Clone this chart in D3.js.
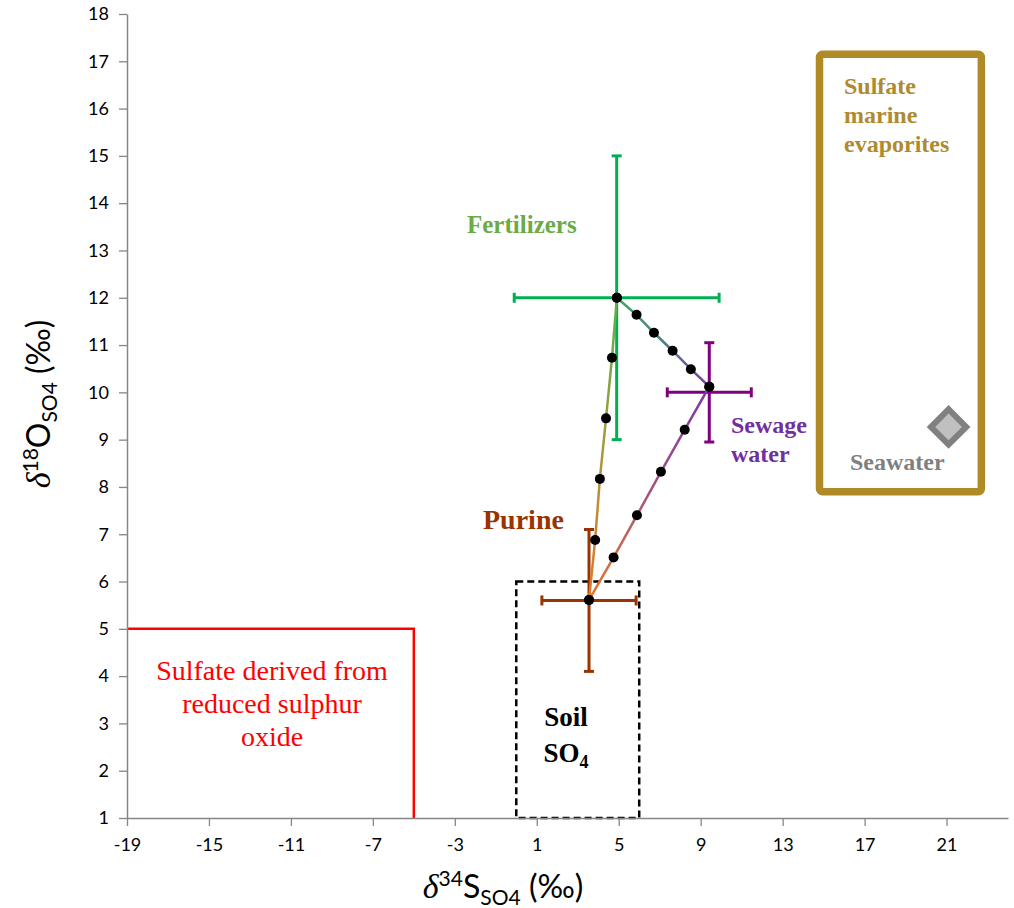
<!DOCTYPE html>
<html>
<head>
<meta charset="utf-8">
<script src="https://cdn.jsdelivr.net/npm/d3@7"></script>
<style>
  html, body { margin: 0; padding: 0; background: #fff; }
  svg { display: block; }
</style>
</head>
<body>
<svg id="chart" width="1014" height="908"></svg>
<script>
// Axis ticks
const xTicks = [-19, -15, -11, -7, -3, 1, 5, 9, 13, 17, 21];
const yTicks = [1, 2, 3, 4, 5, 6, 7, 8, 9, 10, 11, 12, 13, 14, 15, 16, 17, 18];

// Sulfate sources: mean δ34S, mean δ18O and their spreads (‰)
const sources = ["Fertilizers", "Sewage water", "Purine"];
const sourceS = [4.9, 9.42, 3.55];
const sourceO = [12.0, 10.0, 5.6];
const sourceErrS = [5.0, 2.05, 2.3];
const sourceErrO = [3.0, 1.05, 1.5];

// Binary mixing lines between end-members (points every 20 %)
const mixFertSewageS = [4.91, 5.87, 6.72, 7.63, 8.52, 9.42];
const mixFertSewageO = [12.0, 11.64, 11.26, 10.88, 10.49, 10.12];
const mixFertPurineS = [4.91, 4.67, 4.38, 4.08, 3.85, 3.55];
const mixFertPurineO = [12.0, 10.73, 9.45, 8.17, 6.88, 5.61];
const mixSewagePurineS = [9.42, 8.22, 7.06, 5.89, 4.75, 3.55];
const mixSewagePurineO = [10.12, 9.21, 8.32, 7.40, 6.51, 5.61];

// Source fields
const evaporiteS = [14.8, 22.7];
const evaporiteO = [7.9, 17.15];
const soilS = [0, 6];
const soilO = [1, 6];
const reducedS = [-19, -5];
const reducedO = [1, 5];
const seawaterS = [21.1];
const seawaterO = [9.27];

const svg = d3.select("#chart");
const x = d3.scaleLinear().domain([-19, 24]).range([127, 1008]);
const y = d3.scaleLinear().domain([1, 18]).range([818, 14]);

const axisColor = "#868686";
const sansFont = "Lato, 'Open Sans', sans-serif";
const serifFont = "'Liberation Serif', 'DejaVu Serif', serif";

// ---- source fields ----
// reduced sulphur oxide field (red)
svg.append("path")
  .attr("d", d3.line()([[x(reducedS[0]), y(reducedO[1])], [x(reducedS[1]), y(reducedO[1])], [x(reducedS[1]), y(reducedO[0])]]))
  .attr("fill", "none").attr("stroke", "#ff0000").attr("stroke-width", 2.5);

// soil sulfate field (dashed)
svg.append("rect")
  .attr("x", x(soilS[0])).attr("y", y(soilO[1]))
  .attr("width", x(soilS[1]) - x(soilS[0])).attr("height", y(soilO[0]) - y(soilO[1]))
  .attr("fill", "none").attr("stroke", "#000").attr("stroke-width", 2.5)
  .attr("stroke-dasharray", "7,4");

// marine evaporite field
svg.append("rect")
  .attr("x", x(evaporiteS[0])).attr("y", y(evaporiteO[1]))
  .attr("width", x(evaporiteS[1]) - x(evaporiteS[0])).attr("height", y(evaporiteO[0]) - y(evaporiteO[1]))
  .attr("rx", 3)
  .attr("fill", "none").attr("stroke", "#b08a26").attr("stroke-width", 7.5);

// seawater marker
svg.selectAll(".seawater").data(seawaterS).join("path")
  .attr("class", "seawater")
  .attr("d", d3.symbol(d3.symbolSquare, 620)())
  .attr("transform", (d, i) => `translate(${x(d)},${y(seawaterO[i])}) rotate(45)`)
  .attr("fill", "#c0c0c0").attr("stroke", "#808080").attr("stroke-width", 6);

// ---- axes ----
const fmt = d => String(d);   // plain hyphen-minus for negatives
const xAxis = svg.append("g").attr("transform", `translate(0,${y(1)})`)
  .call(d3.axisBottom(x).tickValues(xTicks).tickFormat(fmt).tickSize(8).tickPadding(12).tickSizeOuter(0));
const yAxis = svg.append("g").attr("transform", `translate(${x(-19)},0)`)
  .call(d3.axisLeft(y).tickValues(yTicks).tickFormat(fmt).tickSize(8).tickPadding(10).tickSizeOuter(0));
[xAxis, yAxis].forEach(g => {
  g.select(".domain").attr("stroke", axisColor).attr("stroke-width", 1.5);
  g.selectAll(".tick line").attr("stroke", axisColor).attr("stroke-width", 1.3);
  g.selectAll(".tick text").attr("fill", "#000").style("font-family", sansFont).style("font-size", "18px");
});

// ---- error bars ----
const barColors = ["#00b050", "#800080", "#993300"];
const capHalf = 5;
sources.forEach((name, i) => {
  const g = svg.append("g").attr("stroke", barColors[i]).attr("stroke-width", 3);
  const cx = x(sourceS[i]), cy = y(sourceO[i]);
  const x0 = x(sourceS[i] - sourceErrS[i]), x1 = x(sourceS[i] + sourceErrS[i]);
  const y0 = y(sourceO[i] - sourceErrO[i]), y1 = y(sourceO[i] + sourceErrO[i]);
  g.append("line").attr("x1", x0).attr("x2", x1).attr("y1", cy).attr("y2", cy);
  g.append("line").attr("x1", x0).attr("x2", x0).attr("y1", cy - capHalf).attr("y2", cy + capHalf);
  g.append("line").attr("x1", x1).attr("x2", x1).attr("y1", cy - capHalf).attr("y2", cy + capHalf);
  g.append("line").attr("x1", cx).attr("x2", cx).attr("y1", y0).attr("y2", y1);
  g.append("line").attr("x1", cx - capHalf).attr("x2", cx + capHalf).attr("y1", y0).attr("y2", y0);
  g.append("line").attr("x1", cx - capHalf).attr("x2", cx + capHalf).attr("y1", y1).attr("y2", y1);
});

// ---- mixing lines with colour gradients ----
const defs = svg.append("defs");
const mixes = [
  { id: "fp", s: mixFertPurineS, o: mixFertPurineO, stops: ["#5fae4c", "#a69a3a", "#e4782a"] },
  { id: "fs", s: mixFertSewageS, o: mixFertSewageO, stops: ["#3aa860", "#4f7f86", "#7a3aa0"] },
  { id: "sp", s: mixSewagePurineS, o: mixSewagePurineO, stops: ["#7a38a8", "#a6527e", "#e8782a"] }
];
mixes.forEach(m => {
  const n = m.s.length - 1;
  const grad = defs.append("linearGradient").attr("id", "grad-" + m.id)
    .attr("gradientUnits", "userSpaceOnUse")
    .attr("x1", x(m.s[0])).attr("y1", y(m.o[0]))
    .attr("x2", x(m.s[n])).attr("y2", y(m.o[n]));
  m.stops.forEach((c, k) => grad.append("stop").attr("offset", k / (m.stops.length - 1)).attr("stop-color", c));
  svg.append("path")
    .attr("d", d3.line()(m.s.map((v, k) => [x(v), y(m.o[k])])))
    .attr("fill", "none").attr("stroke", `url(#grad-${m.id})`).attr("stroke-width", 2.5);
});
mixes.forEach(m => {
  svg.append("g").selectAll("circle").data(m.s).join("circle")
    .attr("cx", d => x(d)).attr("cy", (d, k) => y(m.o[k])).attr("r", 5)
    .attr("fill", "#000");
});

// ---- annotations ----
function label(lines, px, py, opts) {
  const t = svg.append("text")
    .attr("x", px).attr("y", py)
    .attr("fill", opts.color)
    .attr("text-anchor", opts.anchor || "start")
    .style("font-family", serifFont)
    .style("font-size", opts.size + "px")
    .style("font-weight", opts.bold ? "bold" : "normal");
  lines.forEach((ln, k) => {
    t.append("tspan").attr("x", px).attr("dy", k === 0 ? 0 : opts.lh).text(ln);
  });
  return t;
}
label(["Fertilizers"], 467, 233, { color: "#6aab45", size: 25, bold: true });
label(["Sewage", "water"], 731, 433, { color: "#7030a0", size: 24, bold: true, lh: 29 });
label(["Purine"], 483, 529, { color: "#993300", size: 28, bold: true });
label(["Sulfate", "marine", "evaporites"], 844, 94, { color: "#b08a2e", size: 24, bold: true, lh: 29 });
label(["Seawater"], 850, 470, { color: "#808080", size: 24, bold: true });
label(["Sulfate derived from", "reduced sulphur", "oxide"], 272, 680, { color: "#ff0000", size: 28, anchor: "middle", lh: 33 });

label(["Soil"], 566, 726, { color: "#000", size: 27, bold: true, anchor: "middle" });
const so4 = svg.append("text").attr("x", 566).attr("y", 762).attr("text-anchor", "middle")
  .style("font-family", serifFont).style("font-size", "27px").style("font-weight", "bold");
so4.append("tspan").text("SO");
so4.append("tspan").attr("dy", 6).style("font-size", "18px").text("4");

// ---- axis titles ----
function axisTitle(sel, iso, el) {
  sel.style("font-family", sansFont).style("font-size", "32px").attr("fill", "#000");
  sel.append("tspan").style("font-family", serifFont).style("font-style", "italic").style("font-size", "34px").text("δ");
  sel.append("tspan").attr("dy", -12).style("font-size", "21px").text(iso);
  sel.append("tspan").attr("dy", 12).text(el);
  sel.append("tspan").attr("dy", 7).style("font-size", "21px").text("SO4");
  sel.append("tspan").attr("dy", -7).text(" (‰)");
}
axisTitle(svg.append("text").attr("x", 503).attr("y", 898).attr("text-anchor", "middle"), "34", "S");
axisTitle(svg.append("text").attr("transform", "translate(50,404) rotate(-90)").attr("text-anchor", "middle"), "18", "O");
</script>
</body>
</html>
